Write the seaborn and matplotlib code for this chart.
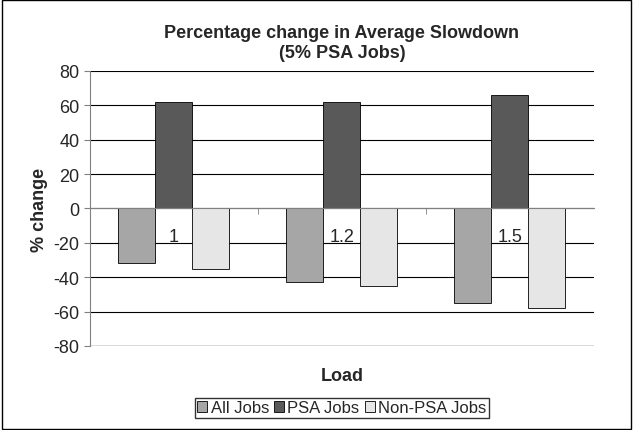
import matplotlib
matplotlib.use("Agg")
import matplotlib.pyplot as plt
import pandas as pd
import seaborn as sns

loads = ["1", "1.2", "1.5"]
all_jobs = [-32, -43, -55]
psa_jobs = [62, 62, 66]
non_psa_jobs = [-35, -45, -58]
series = ["All Jobs", "PSA Jobs", "Non-PSA Jobs"]
colors = ["#a6a6a6", "#595959", "#e6e6e6"]

df = pd.DataFrame({
    "Load": loads * 3,
    "Series": [s for s in series for _ in loads],
    "Value": all_jobs + psa_jobs + non_psa_jobs,
})

sns.set_style("white")
plt.rcParams["font.family"] = ["Liberation Sans", "DejaVu Sans"]
plt.rcParams["axes.unicode_minus"] = False

fig = plt.figure(figsize=(6.33, 4.31), dpi=100)
ax = fig.add_axes([0.142, 0.195, 0.796, 0.638])
sns.barplot(data=df, x="Load", y="Value", hue="Series", palette=colors,
            width=0.66, edgecolor="black", linewidth=0.6, ax=ax, legend=True)

ax.set_ylim(-80, 80)
ax.set_xlim(-0.5, 2.5)
ax.set_yticks(range(-80, 81, 20))
ax.yaxis.grid(True, color="black", linewidth=0.8)
ax.axhline(-80, color="#808080", linewidth=1, zorder=0)
ax.set_axisbelow(True)
ax.spines["top"].set_visible(False)
ax.spines["right"].set_visible(False)
ax.spines["left"].set_color("#808080")
ax.spines["bottom"].set_position(("data", 0))
ax.spines["bottom"].set_color("#808080")
ax.tick_params(axis="y", labelsize=13, length=4, color="#808080", left=True)
ax.tick_params(axis="x", which="major", length=0, labelsize=13, pad=14)
ax.set_xticks([0.5, 1.5], minor=True)
ax.tick_params(axis="x", which="minor", length=4, color="#808080", bottom=True)
ax.set_ylabel("% change", fontsize=13, fontweight="bold", labelpad=4)
ax.set_xlabel("")
fig.text(0.54, 0.115, "Load", ha="center", fontsize=13, fontweight="bold")
ax.set_title("Percentage change in Average Slowdown\n(5% PSA Jobs)",
             fontsize=13, fontweight="bold", pad=10)

handles, labels = ax.get_legend_handles_labels()
ax.get_legend().remove()
fig.legend(handles, labels, loc="center", bbox_to_anchor=(0.54, 0.052),
           ncol=3, frameon=True, fancybox=False, edgecolor="black",
           fontsize=12, handlelength=0.6, handleheight=0.6, handletextpad=0.2,
           columnspacing=0.3, borderpad=0.15, borderaxespad=0)

fig.patches.append(plt.Rectangle((0.003, 0.003), 0.994, 0.994, transform=fig.transFigure,
                                 fill=False, edgecolor="black", linewidth=1))
fig.savefig("out.png", dpi=100)
